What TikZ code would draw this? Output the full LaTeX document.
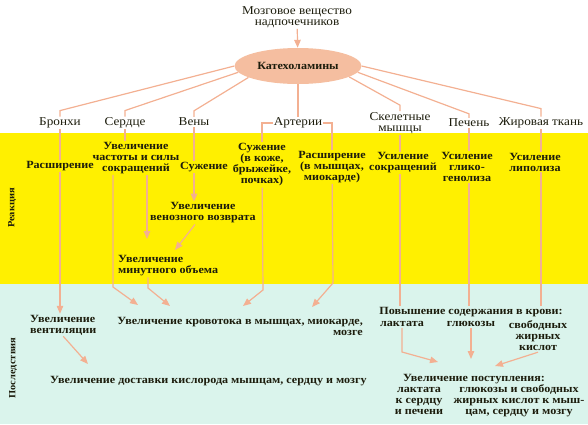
\documentclass[tikz,border=0pt]{standalone}
\usepackage{fontspec}
\setmainfont[FakeStretch=1.1]{Liberation Serif}
\usetikzlibrary{shapes.geometric}
\usetikzlibrary{arrows.meta}
\definecolor{salmon}{RGB}{243,176,146}
\definecolor{peach}{RGB}{245,190,160}
\definecolor{bandyellow}{RGB}{255,240,0}
\definecolor{bandmint}{RGB}{218,244,236}
\definecolor{ink}{RGB}{28,28,12}
\tikzstyle{organ}=[inner sep=1pt, align=center, text=ink, font=\fontsize{12}{11}\selectfont]
\tikzstyle{effect}=[organ, font=\fontsize{11}{11}\selectfont\bfseries]
\tikzstyle{band}=[organ, rotate=90, font=\fontsize{9.5}{9.5}\selectfont\bfseries]
\tikzstyle{link}=[draw=salmon, line width=1.2pt]
\tikzstyle{flow}=[link, -{Triangle[length=8pt, width=6.5pt]}]

\begin{document}
\begin{tikzpicture}[x=1pt, y=-1pt]
    \fill[bandyellow] (0,133) rectangle (588,284);
    \fill[bandmint] (0,284) rectangle (588,424);
    \useasboundingbox (0,0) rectangle (588,424);
    \node[band] (reak) at (12,208) {Реакция};
    \node[band] (posl) at (13,368) {Последствия};

    \node[organ] (src) at (297,17) {Мозговое вещество\\надпочечников};
    \node[effect, ellipse, fill=peach, minimum width=127pt, minimum height=36pt] (kat) at (298,66) {Катехоламины};

    \node[organ] (bronhi) at (60,123) {Бронхи};
    \node[organ] (serdce) at (125,123) {Сердце};
    \node[organ] (veny) at (194,122) {Вены};
    \node[organ] (arterii) at (298,123) {Артерии};
    \node[organ] (skelet) at (400,123) {Скелетные\\мышцы};
    \node[organ] (pechen) at (469,123) {Печень};
    \node[organ] (zhir) at (541,123) {Жировая ткань};

    \node[effect] (r1) at (60,166) {Расширение};
    \node[effect] (r2) at (136,158) {Увеличение\\частоты и силы\\сокращений};
    \node[effect] (r3) at (204,167) {Сужение};
    \node[effect] (r4) at (262,165) {Сужение\\(в коже,\\брыжейке,\\почках)};
    \node[effect] (r5) at (332,167) {Расширение\\(в мышцах,\\миокарде)};
    \node[effect] (r6) at (403,163) {Усиление\\сокращений};
    \node[effect] (r7) at (467,167) {Усиление\\глико-\\генолиза};
    \node[effect] (r8) at (535,162) {Усиление\\липолиза};
    \node[effect] (venret) at (203,213) {Увеличение\\венозного возврата};
    \node[effect, align=left, anchor=west] (minvol) at (117,266) {Увеличение\\минутного объема};

    \node[effect, align=left, anchor=west] (vent) at (29,325) {Увеличение\\вентиляции};
    \node[effect, align=right, anchor=east] (krov) at (364,326) {Увеличение кровотока в мышцах, миокарде,\\мозге};
    \node[effect] (povysh) at (471,312) {Повышение содержания в крови:};
    \node[effect] (laktat) at (402,324) {лактата};
    \node[effect] (gluk) at (471,324) {глюкозы};
    \node[effect] (sfa) at (538,336) {свободных\\жирных\\кислот};
    \node[effect, anchor=west] (dostavka) at (49,381) {Увеличение доставки кислорода мышцам, сердцу и мозгу};
    \node[effect] (postup) at (474,379) {Увеличение поступления:};
    \node[effect] (post1) at (419,401) {лактата\\к сердцу\\и печени};
    \node[effect] (post2) at (519,401) {глюкозы и свободных\\жирных кислот к мыш-\\цам, сердцу и мозгу};

    \coordinate (k1) at (138,305);
    \coordinate (k2) at (170,306);
    \coordinate (k3) at (243,306);
    \coordinate (k4) at (312,307);
    \coordinate (m1) at (147,239);
    \coordinate (m2) at (175,250);
    \coordinate (d1) at (88,364);
    \coordinate (p1) at (438,362);
    \coordinate (p2) at (471,359);
    \coordinate (p3) at (495,366);

    \draw[flow] (src) -- (kat);
    \draw[link] (kat.180) -- ([yshift=6pt]bronhi.north) -- (bronhi.north);
    \draw[link] (kat.186) -- ([yshift=6pt]serdce.north) -- (serdce.north);
    \draw[link] (kat.193) -- ([yshift=6pt]veny.north) -- (veny.north);
    \draw[link] (kat) -- (arterii);
    \draw[link] (kat.348) -- ([yshift=6pt]skelet.north) -- (skelet.north);
    \draw[link] (kat.354) -- ([yshift=4pt]pechen.north) -- (pechen.north);
    \draw[link] (kat.0) -- ([yshift=8pt]zhir.north) -- (zhir.north);

    \draw[link] (bronhi) -- (bronhi |- r1.north);
    \draw[link] (serdce) -- (serdce |- r2.north);
    \draw[link] (veny) -- (veny |- r3.north);
    \draw[link] (r4) |- (arterii.west);
    \draw[link] (arterii.east) -| (r5);
    \draw[link] (skelet) -- (skelet |- r6.north);
    \draw[link] (pechen) -- (pechen |- r7.north);
    \draw[link] (zhir) -- (zhir |- r8.north);

    \draw[flow] (r1) -- (r1 |- vent.north);
    \draw[flow] ([xshift=11pt]r2.south) -- (m1);
    \draw[flow] ([xshift=-23pt]r2.south) -- ([xshift=-25pt, yshift=18pt]k1) -- (k1);
    \draw[flow] (veny |- r3.south) -- (veny |- venret.north);
    \draw[flow] ([xshift=-8pt]venret.south) -- (m2);
    \draw[flow] ([xshift=31pt]minvol.south west) -- ([xshift=-22pt, yshift=18pt]k2) -- (k2);
    \draw[flow] (r4) -- ([xshift=20pt, yshift=16pt]k3) -- (k3);
    \draw[flow] (r5) -- ([xshift=21pt, yshift=24pt]k4) -- (k4);
    \draw[link] (skelet |- r6.south) -- (skelet |- povysh.north);
    \draw[link] (pechen |- r7.south) -- (pechen |- povysh.north);
    \draw[link] (zhir |- r8.south) -- (zhir |- povysh.north);

    \draw[flow] (vent.south) -- (d1);
    \draw[flow] (laktat) -- ([xshift=-36pt, yshift=10pt]p1) -- (p1);
    \draw[flow] (gluk) -- (p2);
    \draw[flow] (sfa.south) -- (p3);
\end{tikzpicture}
\end{document}
